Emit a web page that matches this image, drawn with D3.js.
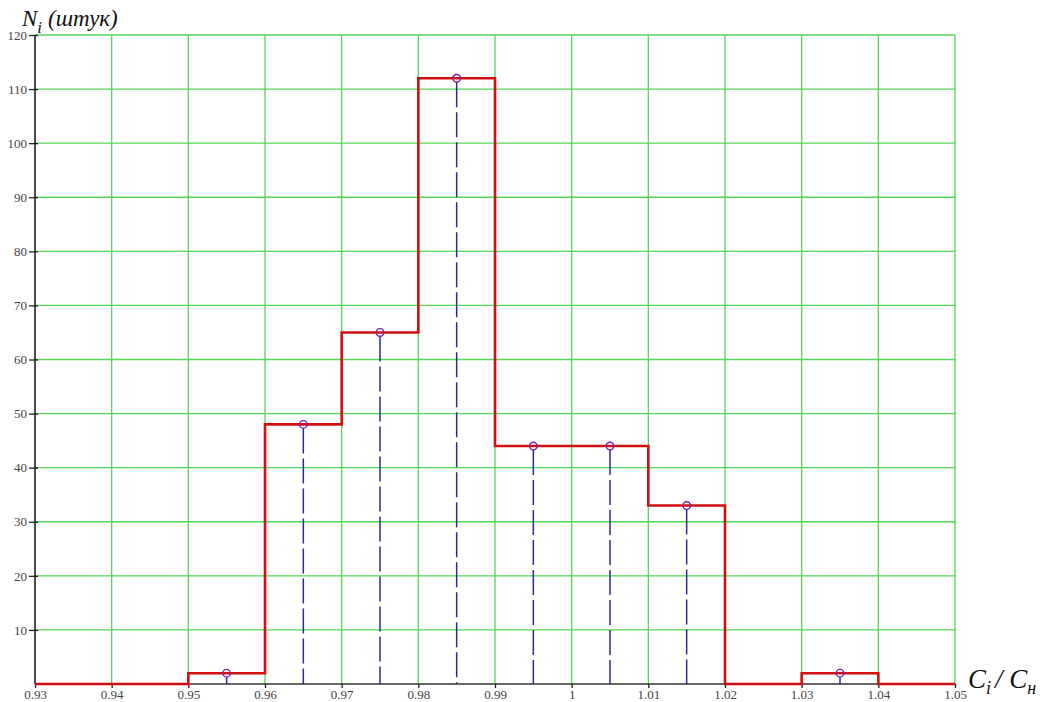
<!DOCTYPE html>
<html>
<head>
<meta charset="utf-8">
<script src="https://cdn.jsdelivr.net/npm/d3@7"></script>
<style>
  body { margin: 0; background: #fff; }
  svg { display: block; }
</style>
</head>
<body>
<svg id="chart" width="1042" height="702"></svg>
<script>
// bin edges and counts of the histogram
const binEdges = [0.93, 0.94, 0.95, 0.96, 0.97, 0.98, 0.99, 1.00, 1.01, 1.02, 1.03, 1.04, 1.05];
const binCounts = [0, 0, 2, 48, 65, 112, 44, 44, 33, 0, 2, 0];
// points at bin centres
const pointX = [0.955, 0.965, 0.975, 0.985, 0.995, 1.005, 1.015, 1.035];
const pointY = [2, 48, 65, 112, 44, 44, 33, 2];
const xTicks = [0.93, 0.94, 0.95, 0.96, 0.97, 0.98, 0.99, 1.00, 1.01, 1.02, 1.03, 1.04, 1.05];
const yTicks = [10, 20, 30, 40, 50, 60, 70, 80, 90, 100, 110, 120];

const margin = { left: 35, right: 87, top: 35, bottom: 18 };
const width = 1042, height = 702;

const svg = d3.select("#chart");

const x = d3.scaleLinear().domain([0.93, 1.05]).range([margin.left, width - margin.right]);
const y = d3.scaleLinear().domain([0, 120]).range([height - margin.bottom, margin.top]);

const grid = svg.append("g").attr("class", "grid");

grid.selectAll("line.v")
  .data(xTicks.slice(1))
  .enter().append("line")
  .attr("class", "v")
  .attr("x1", d => x(d)).attr("x2", d => x(d))
  .attr("y1", y(0)).attr("y2", y(120))
  .style("stroke", "#55d655")
  .style("stroke-width", 1.3);

grid.selectAll("line.h")
  .data(yTicks)
  .enter().append("line")
  .attr("class", "h")
  .attr("x1", x(0.93)).attr("x2", x(1.05))
  .attr("y1", d => y(d)).attr("y2", d => y(d))
  .style("stroke", "#55d655")
  .style("stroke-width", 1.3);

// dashed droplines
svg.append("g").selectAll("line")
  .data(pointX)
  .enter().append("line")
  .attr("x1", d => x(d)).attr("x2", d => x(d))
  .attr("y1", (d, i) => y(pointY[i]) + 4)
  .attr("y2", y(0))
  .style("stroke", "#2a2a9e")
  .style("stroke-width", 1.5)
  .style("stroke-dasharray", "25,5");

// axes
const xAxis = d3.axisBottom(x).tickValues(xTicks).tickSize(4).tickPadding(2)
  .tickFormat(d => d3.format("")(+d.toFixed(2)));
const yAxis = d3.axisLeft(y).tickValues(yTicks).tickSize(6).tickPadding(2);

const gx = svg.append("g")
  .attr("transform", "translate(0," + y(0) + ")")
  .call(xAxis);
gx.select(".domain").attr("d", "M" + x(0.93) + ",0H" + x(1.05)).style("stroke", "#333").style("stroke-width", 1.3);
gx.selectAll(".tick line").style("stroke", "#222").style("stroke-width", 1.3);
gx.selectAll("text")
  .style("font-family", "Liberation Serif, serif")
  .style("font-size", "13px")
  .style("fill", "#444");

const gy = svg.append("g")
  .attr("transform", "translate(" + x(0.93) + ",0)")
  .call(yAxis);
gy.select(".domain").attr("d", "M0," + y(0) + "V" + y(120)).style("stroke", "#111").style("stroke-width", 1.5);
gy.selectAll(".tick line").attr("x1", 3).style("stroke", "#222").style("stroke-width", 1.3);
gy.selectAll("text")
  .style("font-family", "Liberation Serif, serif")
  .style("font-size", "13px")
  .style("fill", "#444");

// histogram step line
const stepData = binCounts.map((c, i) => ({ x: binEdges[i], y: c }));
stepData.push({ x: binEdges[binEdges.length - 1], y: binCounts[binCounts.length - 1] });
svg.append("path")
  .datum(stepData)
  .attr("d", d3.line().x(d => x(d.x)).y(d => y(d.y)).curve(d3.curveStepAfter))
  .style("fill", "none")
  .style("stroke", "#d01010")
  .style("stroke-width", 2.6);

// point markers
svg.append("g").selectAll("circle")
  .data(pointX)
  .enter().append("circle")
  .attr("cx", d => x(d))
  .attr("cy", (d, i) => y(pointY[i]))
  .attr("r", 3.8)
  .style("fill", "none")
  .style("stroke", "#7a1fa8")
  .style("stroke-width", 1.4);

// axis titles
const yTitle = svg.append("text")
  .attr("x", 22).attr("y", 26)
  .style("font-family", "Liberation Serif, serif")
  .style("font-style", "italic")
  .style("font-size", "23px")
  .style("fill", "#111");
yTitle.append("tspan").text("N");
yTitle.append("tspan").attr("dy", 7).style("font-size", "17px").text("i");
yTitle.append("tspan").attr("dy", -7).attr("dx", 6).text("(штук)");

const xTitle = svg.append("text")
  .attr("x", 968).attr("y", 688)
  .style("font-family", "Liberation Serif, serif")
  .style("font-style", "italic")
  .style("font-size", "27px")
  .style("fill", "#111");
xTitle.append("tspan").text("C");
xTitle.append("tspan").attr("dy", 6).style("font-size", "18px").text("i");
xTitle.append("tspan").attr("dy", -6).attr("dx", 4).text("/ C");
xTitle.append("tspan").attr("dy", 6).style("font-size", "18px").text("н");
</script>
</body>
</html>
